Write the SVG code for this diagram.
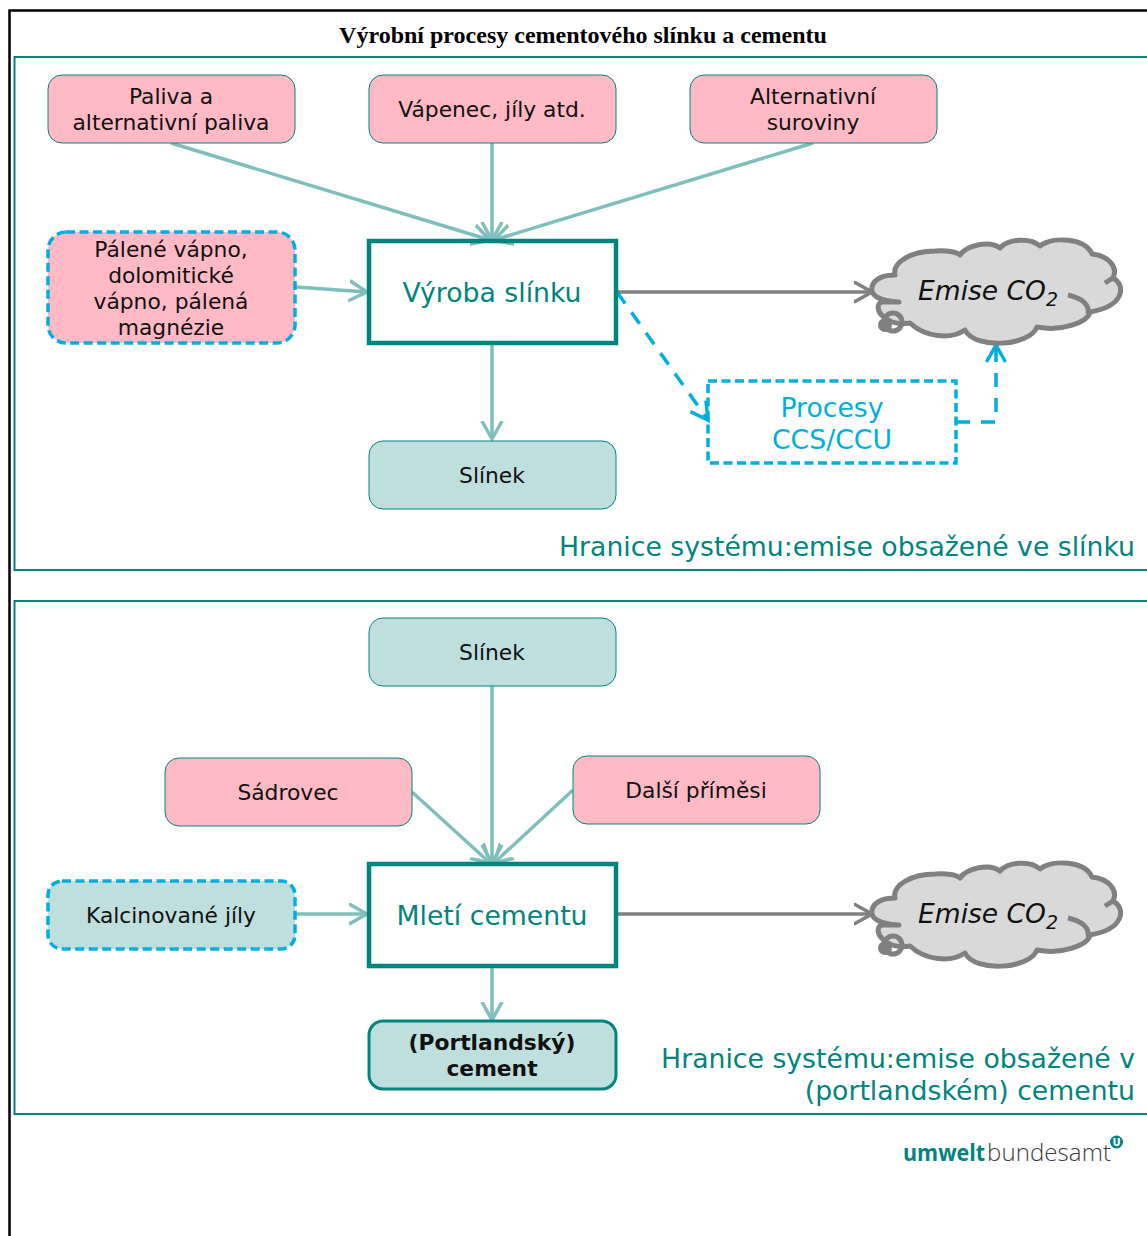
<svg xmlns="http://www.w3.org/2000/svg" width="1147" height="1236" viewBox="0 0 1147 1236">
<style>
text{font-family:"DejaVu Sans",Verdana,sans-serif;text-anchor:middle;fill:#111}
.s{font-size:21.800px}
.b{font-size:26.700px;fill:#00847e}
.h{font-size:26.700px;fill:#00847e;text-anchor:end}
.pink{fill:#ffbac5;stroke:#00847e;stroke-width:1}
.mint{fill:#bedfde;stroke:#00847e;stroke-width:1}
.dash{stroke:#00aee0;stroke-width:3.500;stroke-dasharray:9 4.500}
.main{fill:none;stroke:#00847e;stroke-width:4.500}
.panel{fill:none;stroke:#00847e;stroke-width:2}
.c{fill:none;stroke:#7fbfbb;stroke-width:3.500;marker-end:url(#al)}
.g{fill:none;stroke:#808080;stroke-width:3.500;marker-end:url(#ag)}
.d{fill:none;stroke:#00aee0;stroke-width:3.500;stroke-dasharray:14 11;marker-end:url(#ab)}
.cl{fill:#d9d9d9;stroke:#808080;stroke-width:5;stroke-linejoin:round}
.cl2{fill:none;stroke:#808080;stroke-width:5}
.e{font-size:26.500px;font-style:italic}
.u{font-size:19px;font-style:italic}
</style>
<defs>
<marker id="al" markerUnits="userSpaceOnUse" markerWidth="24" markerHeight="30" refX="18" refY="15" orient="auto"><path d="M1 5.500L18 15L1 24.500" fill="none" stroke="#7fbfbb" stroke-width="3.500" stroke-linecap="round"/></marker>
<marker id="ag" markerUnits="userSpaceOnUse" markerWidth="24" markerHeight="30" refX="18" refY="15" orient="auto"><path d="M1 5.500L18 15L1 24.500" fill="none" stroke="#808080" stroke-width="3.500" stroke-linecap="round"/></marker>
<marker id="ab" markerUnits="userSpaceOnUse" markerWidth="24" markerHeight="30" refX="18" refY="15" orient="auto"><path d="M1 5.500L18 15L1 24.500" fill="none" stroke="#00aee0" stroke-width="3.500"/></marker>
<g id="cloud">
<path class="cl" d="M899 302C880 301 870 296 872 287C874 278 885 275 895 275C892 262 912 251 935 251C947 250 957 252 960 255C967 245 990 240 1000 248C1008 239 1030 237 1040 246C1053 236 1085 238 1092 254C1110 256 1118 268 1113 278C1126 285 1125 306 1090 312C1088 322 1062 332 1037 327C1030 346 975 350 965 330C950 340 925 337 910 323C885 327 872 308 881 302Z"/>
<path class="cl" style="fill:none" d="M1105 283L1113 278M1068 295C1082 298 1090 305 1088 314"/>
<circle class="cl2" cx="893" cy="322" r="9"/>
<circle cx="885" cy="325" r="7" fill="#808080"/>
</g>
</defs>
<rect width="1147" height="1236" fill="#fff"/>
<path d="M1147 10.500H9.500V1236" fill="none" stroke="#000" stroke-width="2.500"/>
<text x="583" y="43" style="font-family:'Liberation Serif',serif;font-weight:bold;font-size:24px;fill:#000">Výrobní procesy cementového slínku a cementu</text>
<path class="panel" d="M1147 57H14.500V570H1147"/>
<path class="panel" d="M1147 601H14.500V1114H1147"/>
<g id="connectors">
<path class="c" d="M171 143L490 240"/>
<path class="c" d="M492 143V240"/>
<path class="c" d="M813 143L494 240"/>
<path class="c" d="M296 287L367 292"/>
<path class="c" d="M492 344V439"/>
<path class="g" d="M617 292H872"/>
<path class="d" d="M617 292L708 420"/>
<path class="d" d="M956 422H996V345"/>
<path class="c" d="M492 686V863"/>
<path class="c" d="M412 792L490 863"/>
<path class="c" d="M573 790L494 863"/>
<path class="c" d="M296 914H367"/>
<path class="g" d="M617 914H872"/>
<path class="c" d="M492 967V1020"/>
</g>
<g id="n1"><rect class="pink" x="48" y="75" width="247" height="68" rx="14"/><text class="s" x="171" y="104">Paliva a</text><text class="s" x="171" y="130">alternativní paliva</text></g>
<g id="n2"><rect class="pink" x="369" y="75" width="247" height="68" rx="14"/><text class="s" x="492" y="117">Vápenec, jíly atd.</text></g>
<g id="n3"><rect class="pink" x="690" y="75" width="247" height="68" rx="14"/><text class="s" x="813" y="104">Alternativní</text><text class="s" x="813" y="130">suroviny</text></g>
<g id="n4"><rect class="pink dash" x="48" y="232" width="247" height="111" rx="18"/><text class="s" x="171" y="257">Pálené vápno,</text><text class="s" x="171" y="283">dolomitické</text><text class="s" x="171" y="309">vápno, pálená</text><text class="s" x="171" y="335">magnézie</text></g>
<g id="n5"><rect class="main" x="369" y="241" width="247" height="102"/><text class="b" x="492" y="302">Výroba slínku</text></g>
<g id="n6"><use href="#cloud"/><text class="e" x="982" y="300">Emise CO</text><text class="u" x="1052" y="306">2</text></g>
<g id="n7"><rect x="708" y="381" width="248" height="82" fill="none" class="dash"/><text class="b" x="832" y="417" style="fill:#00aee0">Procesy</text><text class="b" x="832" y="449" style="fill:#00aee0">CCS/CCU</text></g>
<g id="n8"><rect class="mint" x="369" y="441" width="247" height="68" rx="14"/><text class="s" x="492" y="483">Slínek</text></g>
<text class="h" x="1135" y="556">Hranice systému:emise obsažené ve slínku</text>
<g id="n9"><rect class="mint" x="369" y="618" width="247" height="68" rx="14"/><text class="s" x="492" y="660">Slínek</text></g>
<g id="n10"><rect class="pink" x="165" y="758" width="247" height="68" rx="14"/><text class="s" x="288" y="800">Sádrovec</text></g>
<g id="n11"><rect class="pink" x="573" y="756" width="247" height="68" rx="14"/><text class="s" x="696" y="798">Další příměsi</text></g>
<g id="n12"><rect class="mint dash" x="48" y="881" width="247" height="68" rx="14"/><text class="s" x="171" y="923">Kalcinované jíly</text></g>
<g id="n13"><rect class="main" x="369" y="864" width="247" height="102"/><text class="b" x="492" y="925">Mletí cementu</text></g>
<g id="n14"><use href="#cloud" y="623"/><text class="e" x="982" y="923">Emise CO</text><text class="u" x="1052" y="929">2</text></g>
<g id="n15"><rect class="mint" style="stroke-width:3" x="369" y="1021" width="247" height="68" rx="14"/><text class="s" x="492" y="1050" font-weight="bold">(Portlandský)</text><text class="s" x="492" y="1076" font-weight="bold">cement</text></g>
<text class="h" x="1135" y="1068">Hranice systému:emise obsažené v</text>
<text class="h" x="1135" y="1100">(portlandském) cementu</text>
<g id="logo">
<text x="903" y="1161" textLength="82" lengthAdjust="spacingAndGlyphs" style="text-anchor:start;font-family:'Open Sans',sans-serif;font-size:24px;font-weight:bold;fill:#00847e">umwelt</text>
<text x="987" y="1161" textLength="124" style="text-anchor:start;font-family:'Open Sans',sans-serif;font-size:24px;font-weight:300;fill:#3c3c3c">bundesamt</text>
<circle cx="1116.500" cy="1142" r="6.500" fill="#00847e"/>
<text x="1116.500" y="1146" style="font-family:'DejaVu Sans',sans-serif;font-size:10px;font-weight:bold;fill:#fff">U</text>
</g>
</svg>
